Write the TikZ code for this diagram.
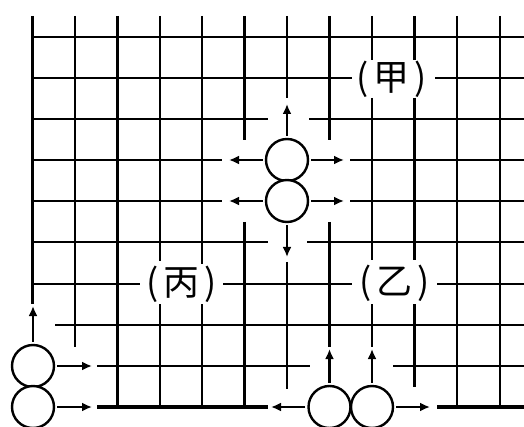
\documentclass[tikz,border=0pt]{standalone}
\usepackage{fontspec}
\newfontfamily\cjk{Noto Sans CJK SC}
\usetikzlibrary{arrows.meta}
\begin{document}
\begin{tikzpicture}[x=1pt,y=-1pt,
  gridline/.style={line width=2.2pt},
  edgeline/.style={line width=3.4pt},
  stone/.style={circle,draw,line width=2.4pt,fill=white,minimum size=42pt,inner sep=0pt},
  arr/.style={line width=2.3pt,-{Latex[length=10pt,width=9pt]},shorten <=2pt},
  lbl/.style={font=\cjk\fontsize{36}{36}\selectfont,inner sep=0pt}]
\useasboundingbox (0,0) rectangle (524,427);
% vertical lines
\draw[edgeline] (32.5,16) -- (32.5,304);
\foreach \x/\a/\b in {75/16/347, 117.5/16/407, 160/16/261, 160/304/407,
  202/16/264, 202/304/407, 244.5/16/140, 244.5/222/407, 287/16/98, 287/262/389,
  329.5/16/140, 329.5/222/347, 372/16/60, 372/98/260, 372/304/347,
  414.5/16/60, 414.5/98/260, 414.5/304/387, 457/16/407, 500/16/407}
  \draw[gridline] (\x,\a) -- (\x,\b);
% horizontal lines
\foreach \y/\a/\b in {37/31/524, 78/31/352, 78/435/524, 119/31/268, 119/309/524,
  160/31/222, 160/350/524, 201/31/222, 201/350/524, 242/31/268, 242/307/524,
  284/31/140, 284/223/352, 284/437/524, 325/55/524, 366/97/310, 366/393/524}
  \draw[gridline] (\a,\y) -- (\b,\y);
\draw[edgeline] (97,407) -- (268,407);
\draw[edgeline] (437,407) -- (524,407);
% labels
\node[lbl] (jia) at (392,79) {(\hspace{5pt}甲\hspace{5pt})};
\node[lbl] (bing) at (181.5,284) {(\hspace{5pt}丙\hspace{5pt})};
\node[lbl] (yi) at (395,283) {(\hspace{5pt}乙\hspace{5pt})};
% stones
\node[stone] (s1) at (287,160) {};
\node[stone] (s2) at (287,201) {};
\node[stone] (s3) at (33,366) {};
\node[stone] (s4) at (33,407) {};
\node[stone] (s5) at (329.5,407) {};
\node[stone] (s6) at (372,407) {};
% arrow targets
\coordinate (t1u) at (287,104);
\coordinate (t1l) at (229,160);
\coordinate (t1r) at (344,160);
\coordinate (t2l) at (229,201);
\coordinate (t2r) at (344,201);
\coordinate (t2d) at (287,257);
\coordinate (t3u) at (33,306);
\coordinate (t3r) at (92,366);
\coordinate (t4r) at (92,407);
\coordinate (t5u) at (329.5,349);
\coordinate (t5l) at (271,407);
\coordinate (t6u) at (372,349);
\coordinate (t6r) at (430,407);
% arrows
\draw[arr] (s1) -- (t1u);
\draw[arr] (s1) -- (t1l);
\draw[arr] (s1) -- (t1r);
\draw[arr] (s2) -- (t2l);
\draw[arr] (s2) -- (t2r);
\draw[arr] (s2) -- (t2d);
\draw[arr] (s3) -- (t3u);
\draw[arr] (s3) -- (t3r);
\draw[arr] (s4) -- (t4r);
\draw[arr] (s5) -- (t5u);
\draw[arr] (s5) -- (t5l);
\draw[arr] (s6) -- (t6u);
\draw[arr] (s6) -- (t6r);
\end{tikzpicture}
\end{document}
